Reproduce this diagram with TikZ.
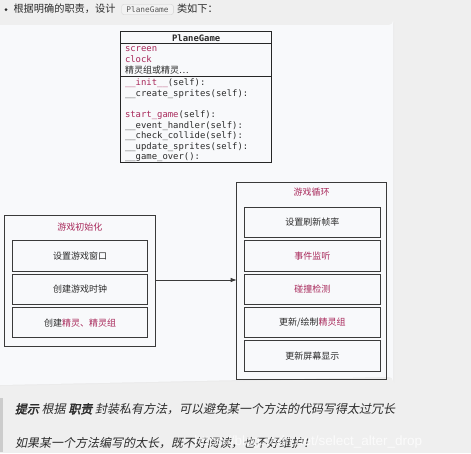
\documentclass[tikz,border=0pt]{standalone}
\usepackage{fontspec}
\usetikzlibrary{arrows.meta}
\setmainfont{Liberation Sans}
\newfontfamily\cjk{Noto Sans CJK SC}
\newfontfamily\cjki[FakeSlant=0.2]{Noto Sans CJK SC}
\newfontfamily\cjkbi[FakeSlant=0.2,FakeBold=2.5]{Noto Sans CJK SC}
\newfontfamily\mono{DejaVu Sans Mono}
\newfontfamily\monob{DejaVu Sans Mono Bold}
\definecolor{bgc}{HTML}{EFEFEF}
\definecolor{panel}{HTML}{F8F9FB}
\definecolor{kw}{HTML}{A8285A}
\definecolor{txt}{HTML}{2B2B2B}
\definecolor{boxline}{HTML}{3A3A3A}
\begin{document}
\begin{tikzpicture}[x=1pt,y=-1pt,
  every node/.style={inner sep=0pt,outer sep=0pt,text=txt},
  frame/.style={draw=boxline,line width=0.8pt},
  stepbox/.style={draw=boxline,line width=0.8pt,minimum width=135.7pt,minimum height=30.3pt,font=\cjk\fontsize{9}{11}\selectfont},
  title/.style={font=\cjk\fontsize{9}{11}\selectfont,text=kw},
  code/.style={anchor=west,font=\mono\fontsize{8.9}{10}\selectfont},
  hint/.style={anchor=west,font=\cjki\fontsize{12}{14}\selectfont,text=txt}]
\useasboundingbox (0,0) rectangle (471,453);
\fill[bgc] (0,0) rectangle (471,453);
% panel
\fill[black!8] (0,26) -- (390,26) arc[start angle=90,end angle=0,radius=4] -- (394,382) arc[start angle=0,end angle=-90,radius=4] -- (0,386) -- cycle;
\fill[panel] (0,25) -- (389,25) arc[start angle=90,end angle=0,radius=4] -- (393,381) arc[start angle=0,end angle=-90,radius=4] -- (0,385) -- cycle;
% top text
\node[circle,fill=txt,minimum size=3pt] (bul) at (6,9.5) {};
\node[anchor=west,font=\cjk\fontsize{10.2}{12}\selectfont] (t1) at (13.5,9) {根据明确的职责，设计};
\node[draw=black!18,fill=black!5,rounded corners=2pt,minimum width=51.6pt,minimum height=10pt,font=\mono\fontsize{7.8}{9}\selectfont,text=black!65] (chip) at (147.5,9.5) {PlaneGame};
\node[anchor=west,font=\cjk\fontsize{10.2}{12}\selectfont] (t2) at (177,9) {类如下：};
% PlaneGame class box
\draw[line width=1pt,draw=black!85] (120.7,31.7) rectangle (271.7,162.3);
\draw[line width=1pt,draw=black!85] (120.7,43.3) -- (271.7,43.3);
\draw[line width=1pt,draw=black!85] (120.7,76.7) -- (271.7,76.7);
\node[font=\monob\fontsize{8.9}{10}\selectfont] (hdr) at (196.2,37.7) {PlaneGame};
\node[code,text=kw] (a1) at (125,49) {screen};
\node[code,text=kw] (a2) at (125,59.5) {clock};
\node[anchor=west,font=\cjk\fontsize{9}{10}\selectfont] (a3) at (125,70.5) {精灵组或精灵…};
\node[code] (m1) at (125,83.3) {\textcolor{kw}{\_\_init\_\_}(self):};
\node[code] (m2) at (125,94.3) {\_\_create\_sprites(self):};
\node[code] (m3) at (125,115) {\textcolor{kw}{start\_game}(self):};
\node[code] (m4) at (125,125.7) {\_\_event\_handler(self):};
\node[code] (m5) at (125,136.2) {\_\_check\_collide(self):};
\node[code] (m6) at (125,146.7) {\_\_update\_sprites(self):};
\node[code] (m7) at (125,157.4) {\_\_game\_over():};
% left box
\node[frame,minimum width=150.7pt,minimum height=130.3pt] (init) at (79.8,280.8) {};
\node[title] (initt) at (79.8,226.7) {游戏初始化};
\node[stepbox] (i1) at (80,256) {设置游戏窗口};
\node[stepbox] (i2) at (80,289.3) {创建游戏时钟};
\node[stepbox] (i3) at (80,322.7) {创建\textcolor{kw}{精灵、精灵组}};
% right box
\node[frame,minimum width=150pt,minimum height=196.7pt] (loop) at (311.7,280.7) {};
\node[title] (loopt) at (311.7,191.7) {游戏循环};
\node[stepbox,minimum width=136.7pt] (l1) at (312.3,222.5) {设置刷新帧率};
\node[stepbox,minimum width=136.7pt,text=kw] (l2) at (312.3,255.9) {事件监听};
\node[stepbox,minimum width=136.7pt,text=kw] (l3) at (312.3,289.2) {碰撞检测};
\node[stepbox,minimum width=136.7pt] (l4) at (312.3,322.5) {更新/绘制\textcolor{kw}{精灵组}};
\node[stepbox,minimum width=136.7pt] (l5) at (312.3,355.9) {更新屏幕显示};
% arrow
\draw[line width=0.8pt,draw=boxline,-{Latex[length=6pt,width=4.5pt]}] (init.east |- 0,280) -- (loop.west |- 0,280);
% hint
\fill[black!20] (0,398) rectangle (3,452);
\node[hint] (h1) at (15,409) {{\cjkbi 提示} 根据 {\cjkbi 职责} 封装私有方法，可以避免某一个方法的代码写得太过冗长};
\node[hint] (h2) at (15,443) {如果某一个方法编写的太长，既不好阅读，也不好维护！};
\node[anchor=west,font=\fontsize{13.5}{15}\selectfont,text=white,opacity=0.75] (wm) at (194,442.5) {https://blog.csdn.net/select\_alter\_drop};
\end{tikzpicture}
\end{document}
